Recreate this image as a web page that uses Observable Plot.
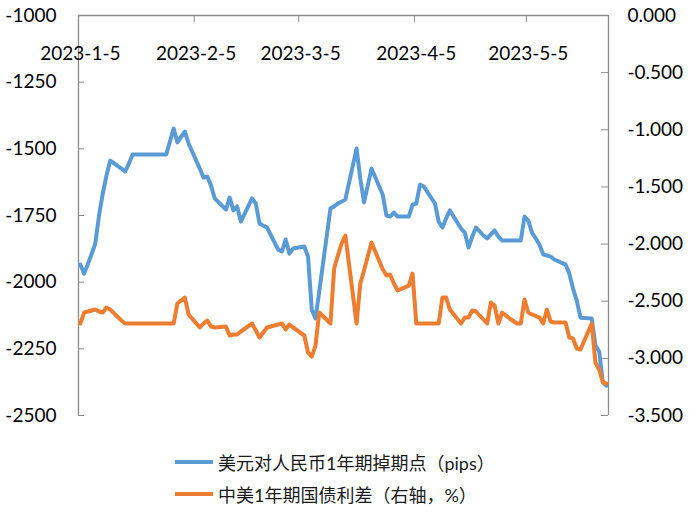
<!DOCTYPE html>
<html><head><meta charset="utf-8">
<script src="https://cdn.jsdelivr.net/npm/d3@7"></script>
<script src="https://cdn.jsdelivr.net/npm/@observablehq/plot@0.6"></script>
<style>
body{margin:0;background:#fff;}
#chart{position:relative;width:700px;height:515px;background:#fff;font-family:Lato,"Noto Sans CJK SC",sans-serif;}
#chart svg{position:absolute;left:0;top:0;}
.leg{position:absolute;left:175px;height:26px;display:flex;align-items:center;font-size:18px;color:#1a1a1a;font-family:Lato,"Noto Sans CJK SC",sans-serif;white-space:nowrap;}
.leg .sw{width:38px;height:4px;margin-right:5px;}
</style></head><body><div id="chart"></div>
<script>
const dates = ["2023-01-05","2023-01-06","2023-01-08","2023-01-09","2023-01-10","2023-01-11","2023-01-12","2023-01-13","2023-01-16","2023-01-17",
"2023-01-18","2023-01-19","2023-01-20","2023-01-28","2023-01-30","2023-01-31","2023-02-02","2023-02-03","2023-02-06","2023-02-07",
"2023-02-08","2023-02-09","2023-02-10","2023-02-13","2023-02-14","2023-02-15","2023-02-16","2023-02-17","2023-02-20","2023-02-21",
"2023-02-22","2023-02-23","2023-02-24","2023-02-27","2023-02-28","2023-03-01","2023-03-02","2023-03-03","2023-03-06","2023-03-07",
"2023-03-08","2023-03-09","2023-03-10","2023-03-13","2023-03-14","2023-03-15","2023-03-16","2023-03-17","2023-03-20","2023-03-21",
"2023-03-22","2023-03-23","2023-03-24","2023-03-27","2023-03-28","2023-03-29","2023-03-30","2023-03-31","2023-04-03","2023-04-04",
"2023-04-05","2023-04-06","2023-04-07","2023-04-10","2023-04-11","2023-04-12","2023-04-13","2023-04-14","2023-04-17","2023-04-18",
"2023-04-19","2023-04-20","2023-04-21","2023-04-23","2023-04-24","2023-04-25","2023-04-26","2023-04-27","2023-04-28","2023-04-30",
"2023-05-02","2023-05-03","2023-05-04","2023-05-05","2023-05-06","2023-05-08","2023-05-09","2023-05-10","2023-05-11","2023-05-12",
"2023-05-15","2023-05-16","2023-05-17","2023-05-18","2023-05-19","2023-05-22","2023-05-23","2023-05-24","2023-05-25","2023-05-26"];

const swapPoints = [-1934,-1968,-1895,-1855,-1750,-1668,-1600,-1544,-1574,-1585,
-1555,-1521,-1521,-1521,-1424,-1476,-1435,-1480,-1574,-1608,
-1604,-1638,-1686,-1728,-1683,-1731,-1716,-1773,-1686,-1705,
-1780,-1788,-1795,-1878,-1885,-1840,-1893,-1874,-1866,-1904,
-2103,-2136,-2035,-1724,-1716,-1705,-1698,-1690,-1499,-1611,
-1701,-1638,-1574,-1671,-1750,-1754,-1739,-1754,-1754,-1709,
-1705,-1634,-1641,-1705,-1773,-1795,-1761,-1731,-1799,-1814,
-1870,-1829,-1795,-1825,-1836,-1821,-1806,-1829,-1844,-1844,
-1844,-1844,-1754,-1769,-1814,-1859,-1896,-1900,-1904,-1915,
-1934,-1968,-2024,-2069,-2133,-2136,-2238,-2260,-2376,-2388];

const yieldSpread = [-2.695,-2.599,-2.581,-2.573,-2.590,-2.599,-2.555,-2.573,-2.669,-2.695,
-2.695,-2.695,-2.695,-2.695,-2.695,-2.520,-2.468,-2.616,-2.730,-2.695,
-2.669,-2.721,-2.730,-2.721,-2.800,-2.791,-2.791,-2.765,-2.695,-2.756,
-2.818,-2.774,-2.730,-2.704,-2.695,-2.748,-2.704,-2.730,-2.800,-2.949,
-2.984,-2.888,-2.599,-2.695,-2.214,-2.100,-1.995,-1.925,-2.695,-2.345,
-2.231,-2.109,-1.986,-2.220,-2.275,-2.266,-2.345,-2.406,-2.363,-2.258,
-2.695,-2.695,-2.695,-2.695,-2.695,-2.468,-2.468,-2.573,-2.695,-2.643,
-2.643,-2.581,-2.590,-2.660,-2.695,-2.511,-2.538,-2.695,-2.599,-2.651,
-2.695,-2.695,-2.485,-2.599,-2.616,-2.643,-2.695,-2.573,-2.678,-2.686,
-2.686,-2.818,-2.826,-2.914,-2.923,-2.695,-3.036,-3.098,-3.211,-3.220];

const leftTicks = [-1000,-1250,-1500,-1750,-2000,-2250,-2500];
const rightTicks = [0,-0.5,-1,-1.5,-2,-2.5,-3,-3.5];
const xTickLabels = ["2023-1-5","2023-2-5","2023-3-5","2023-4-5","2023-5-5"];
const legendLabels = ["美元对人民币1年期掉期点（pips）","中美1年期国债利差（右轴，%）"];
const seriesColors = ["#5B9BD5","#ED7D31"];

const parseD = s => { const [y,m,d] = s.split("-").map(Number); return new Date(y, m-1, d); };
const rows = dates.map((d,i) => ({date: parseD(d), fwd: swapPoints[i], spread: yieldSpread[i]}));
const xTickDates = xTickLabels.map(parseD);
const halfDay = 12*3600*1000;
const xDomain = [new Date(+rows[0].date - halfDay), new Date(+rows[rows.length-1].date + halfDay)];

const L0 = -1000, L1 = -2500, R0 = 0, R1 = -3.5;
const toLeft = v => L0 + (v - R0) * (L1 - L0) / (R1 - R0);
const fromLeft = v => R0 + (v - L0) * (R1 - R0) / (L1 - L0);

const W = 700, H = 430, mL = 78, mR = 92, mT = 15, mB = 15;
const innerW = W - mL - mR, innerH = H - mT - mB;
const axisColor = "#8c8c8c";

const chart = Plot.plot({
  width: W, height: H,
  marginLeft: mL, marginRight: mR, marginTop: mT, marginBottom: mB,
  style: {fontFamily: "Lato, sans-serif", fontSize: "19px", color: "#000", background: "transparent", overflow: "visible"},
  x: {type: "time", domain: xDomain, axis: null},
  y: {domain: [L1, L0], axis: null},
  marks: [
    Plot.axisY(leftTicks, {anchor: "left", label: null, tickSize: 0, tickPadding: 22, tickFormat: d => String(d), fontSize: 19, fill: "#000"}),
    Plot.axisY(rightTicks.map(toLeft), {anchor: "right", label: null, tickSize: 0, tickPadding: 19, tickFormat: v => { const r = fromLeft(v); return (Math.abs(r) < 1e-9 ? 0 : r).toFixed(3); }, fontSize: 19, fill: "#000"}),
    Plot.tickY(leftTicks, {y: d => d, stroke: axisColor, strokeWidth: 1, insetRight: innerW - 6}),
    Plot.tickY(rightTicks.map(toLeft), {y: d => d, stroke: axisColor, strokeWidth: 1, insetLeft: innerW - 7}),
    Plot.tickX(xTickDates.slice(1).map(d => new Date(+d - halfDay)), {x: d => d, stroke: axisColor, strokeWidth: 1, insetBottom: innerH - 7}),
    Plot.ruleX([xDomain[0], xDomain[1]], {stroke: axisColor, strokeWidth: 1.3}),
    Plot.ruleY([L0], {stroke: axisColor, strokeWidth: 1.3}),
    Plot.text(xTickDates, {x: d => d, frameAnchor: "top", dy: 31, text: (d, i) => xTickLabels[i], fontSize: 19, fill: "#000"}),
    Plot.line(rows, {x: "date", y: "fwd", stroke: seriesColors[0], strokeWidth: 4, strokeLinejoin: "round", strokeLinecap: "round"}),
    Plot.line(rows, {x: "date", y: d => toLeft(d.spread), stroke: seriesColors[1], strokeWidth: 4, strokeLinejoin: "round", strokeLinecap: "round"})
  ]
});
const host = document.getElementById("chart");
host.appendChild(chart);
legendLabels.forEach((lab, i) => {
  const div = document.createElement("div");
  div.className = "leg";
  div.style.top = (449 + i * 32) + "px";
  const sw = document.createElement("span");
  sw.className = "sw";
  sw.style.background = seriesColors[i];
  const tx = document.createElement("span");
  tx.textContent = lab;
  div.appendChild(sw); div.appendChild(tx);
  host.appendChild(div);
});
</script></body></html>
